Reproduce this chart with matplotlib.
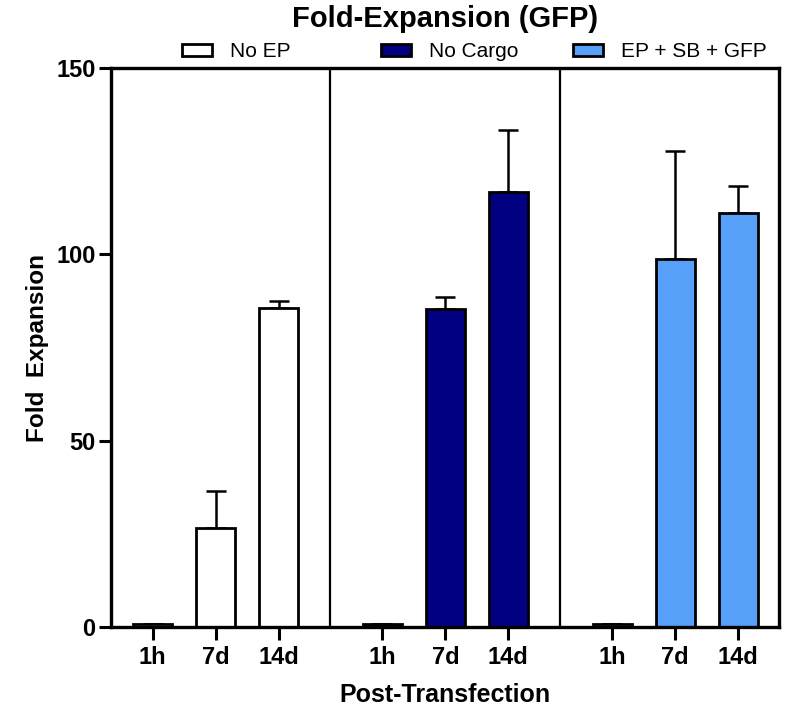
import matplotlib
matplotlib.use('Agg')
import matplotlib.pyplot as plt
from matplotlib.patches import Patch
import numpy as np

plt.rcParams['font.family'] = ['Liberation Sans', 'DejaVu Sans']

# data
groups = ['No EP', 'No Cargo', 'EP + SB + GFP']
timepoints = ['1h', '7d', '14d']
no_ep = [0.8, 26.6, 85.7]
no_ep_err = [0.0, 9.9, 1.9]
no_cargo = [0.8, 85.3, 116.8]
no_cargo_err = [0.0, 3.2, 16.6]
ep_sb_gfp = [0.8, 98.8, 111.0]
ep_sb_gfp_err = [0.0, 29.0, 7.4]

colors = ['white', '#000080', '#56A0FA']
values = [no_ep, no_cargo, ep_sb_gfp]
errors = [no_ep_err, no_cargo_err, ep_sb_gfp_err]

fig = plt.figure(figsize=(7.95, 7.1), dpi=100)
ax = fig.add_axes([0.1396, 0.1169, 0.8403, 0.7873])

group_step = 3.646
x_all = []
for g in range(3):
    x = g * group_step + np.arange(3)
    x_all.extend(x)
    ax.bar(x, values[g], width=0.62, color=colors[g], edgecolor='black',
           linewidth=2.0, zorder=3)
    ax.errorbar(x, values[g], yerr=[np.zeros(3), errors[g]], fmt='none',
                ecolor='black', elinewidth=1.8, capsize=7, capthick=1.8, zorder=2)

# separators between groups
for g in range(2):
    ax.axvline(g * group_step + 2 + (group_step - 2) / 2, color='black', lw=1.6, zorder=1)

ax.set_xlim(-0.66, 2 * group_step + 2 + 0.65)
ax.set_ylim(0, 150)
ax.set_yticks([0, 50, 100, 150])
ax.set_xticks(x_all)
ax.set_xticklabels(timepoints * 3)

for s in ax.spines.values():
    s.set_linewidth(2.4)
    s.set_zorder(4)
ax.tick_params(axis='both', width=2.2, length=9, labelsize=17)
ax.tick_params(axis='x', pad=5)
ax.tick_params(axis='y', pad=2)
for lab in ax.get_xticklabels() + ax.get_yticklabels():
    lab.set_fontweight('bold')

ax.set_ylabel('Fold  Expansion', fontsize=17.5, fontweight='bold', va='center', ha='center')
ax.yaxis.set_label_coords(-0.11, 0.5)
ax.set_xlabel('Post-Transfection', fontsize=18, fontweight='bold', va='center', ha='center')
ax.xaxis.set_label_coords(0.5, -0.1217)
fig.text(0.56, 0.973, 'Fold-Expansion (GFP)', ha='center', va='center',
         fontsize=21, fontweight='bold')

# legend entries placed at fixed columns like the original
legend_x = [182 / 795, 381 / 795, 573 / 795]
for g in range(3):
    h = Patch(facecolor=colors[g], edgecolor='black', linewidth=2.0)
    fig.legend([h], [groups[g]], loc='center left', bbox_to_anchor=(legend_x[g], 0.927),
               frameon=False, fontsize=15, handlelength=1.45, handleheight=0.45,
               handletextpad=0.85, borderpad=0, borderaxespad=0)

fig.savefig('out.png', dpi=100)
